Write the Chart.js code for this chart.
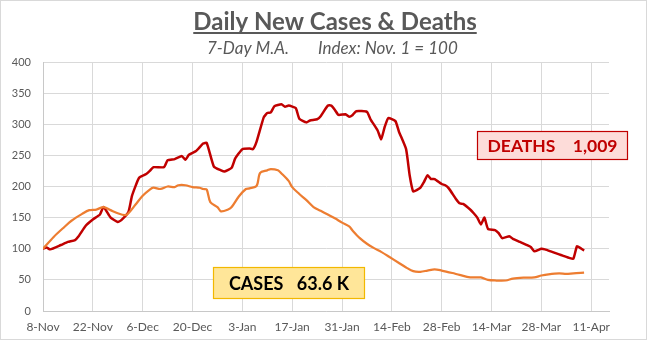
<!DOCTYPE html>
<html>
<head>
<meta charset="utf-8">
<script src="https://cdn.jsdelivr.net/npm/chart.js@4/dist/chart.umd.min.js"></script>
<style>
  html, body { margin: 0; padding: 0; background: #ffffff; }
  #wrap { width: 647px; height: 340px; position: relative; }
</style>
</head>
<body>
<div id="wrap"><canvas id="chart" width="647" height="340"></canvas></div>
<script>
// Days counted from 8-Nov; values are 7-day moving averages indexed to Nov. 1 = 100
const deathDays = [0, 1, 2, 5, 7, 9, 10, 12, 14, 16, 17, 19, 21, 22, 24, 25, 27, 29, 30, 31,
  34, 35, 37, 39, 40, 41, 43, 45, 46, 48, 50, 51, 53, 54, 56, 58, 59, 60, 62, 63,
  64, 65, 67, 68, 69, 71, 72, 74, 75, 77, 78, 80, 81, 82, 83, 85, 86, 87, 88, 91,
  92, 94, 95, 96, 97, 99, 100, 102, 103, 104, 106, 107, 108, 109, 110, 112, 113, 114, 116, 117,
  118, 120, 121, 122, 123, 124, 125, 127, 128, 129, 131, 132, 134, 136, 137, 138, 140, 141, 143, 145,
  146, 148, 149, 150, 151, 152];
const deathIndex = [100, 102, 99, 106, 111, 114, 120, 137, 147, 155, 167, 150, 143, 146, 159, 185, 214, 220, 225, 231,
  231, 242, 244, 249, 243, 251, 257, 269, 270, 232, 226, 224, 230, 245, 260, 261, 260, 272, 311, 318,
  319, 329, 332, 328, 330, 326, 309, 303, 306, 308, 313, 330, 330, 323, 315, 316, 312, 315, 321, 320,
  308, 290, 276, 296, 310, 305, 288, 260, 218, 192, 198, 207, 218, 212, 212, 204, 202, 197, 180, 173,
  172, 163, 157, 150, 139, 150, 132, 130, 125, 117, 120, 116, 111, 106, 103, 96, 100, 99, 95, 91,
  89, 85, 84, 104, 101, 97];

const caseDays = [0, 3, 6, 8, 11, 13, 15, 17, 19, 21, 23, 24, 26, 28, 30, 31, 33, 35, 37, 38,
  40, 42, 44, 45, 46, 47, 49, 50, 52, 53, 55, 57, 58, 60, 61, 63, 64, 66, 67, 69,
  70, 72, 74, 76, 78, 80, 82, 84, 86, 87, 89, 91, 93, 95, 97, 100, 102, 104, 106, 108,
  110, 112, 115, 117, 120, 123, 125, 127, 130, 132, 135, 138, 140, 142, 145, 147, 149, 152];
const caseIndex = [100, 119, 135, 145, 156, 162, 163, 167, 162, 157, 154, 157, 171, 185, 195, 198, 196, 200, 199, 202,
  202, 199, 198, 196, 195, 175, 167, 160, 163, 167, 184, 196, 197, 201, 222, 226, 228, 226, 221, 209,
  199, 188, 178, 167, 161, 155, 149, 142, 136, 129, 117, 108, 101, 95, 88, 77, 70, 64, 63, 65,
  67, 65, 61, 58, 54, 54, 50, 49, 49, 52, 53.5, 54, 57, 59, 60.5, 59.5, 60.5, 61.5];

const tickDays = [0, 14, 28, 42, 56, 70, 84, 98, 112, 126, 140, 154];
const tickLabels = ['8-Nov', '22-Nov', '6-Dec', '20-Dec', '3-Jan', '17-Jan', '31-Jan',
  '14-Feb', '28-Feb', '14-Mar', '28-Mar', '11-Apr'];

const latestDeaths = '1,009';
const latestCases = '63.6 K';

const FONT = 'Lato, "Open Sans", sans-serif';
const GREY_TEXT = '#595959';

const toPoints = (xs, ys) => xs.map((x, i) => ({ x: x, y: ys[i] }));

// Frame, headings and the two call-out boxes
const decorations = {
  id: 'decorations',
  beforeDraw(chart) {
    const ctx = chart.ctx;
    ctx.save();
    ctx.fillStyle = '#ffffff';
    ctx.fillRect(0, 0, chart.width, chart.height);
    ctx.strokeStyle = '#D9D9D9';
    ctx.lineWidth = 1;
    ctx.strokeRect(0.5, 0.5, chart.width - 1, chart.height - 1);
    ctx.restore();
  },
  afterDatasetsDraw(chart) {
    const ctx = chart.ctx;
    ctx.save();
    // Heading
    ctx.fillStyle = GREY_TEXT;
    ctx.font = 'bold 24px ' + FONT;
    ctx.textAlign = 'center';
    ctx.textBaseline = 'alphabetic';
    const title = 'Daily New Cases & Deaths';
    const cx = 335;
    ctx.fillText(title, cx, 29.5);
    const w = ctx.measureText(title).width;
    ctx.fillRect(cx - w / 2, 32, w, 2);

    // Sub-heading
    ctx.font = 'italic 17px ' + FONT;
    ctx.textAlign = 'left';
    ctx.fillText('7-Day M.A.', 207, 54);
    ctx.fillText('Index: Nov. 1 = 100', 318, 54);

    // Call-out boxes
    const box = (x, y, bw, bh, fill, stroke, color, text, size) => {
      ctx.fillStyle = fill;
      ctx.fillRect(x, y, bw, bh);
      ctx.strokeStyle = stroke;
      ctx.lineWidth = 1.2;
      ctx.strokeRect(x + 0.5, y + 0.5, bw - 1, bh - 1);
      ctx.fillStyle = color;
      ctx.font = 'bold ' + size + 'px ' + FONT;
      ctx.textAlign = 'center';
      ctx.textBaseline = 'middle';
      ctx.fillText(text, x + bw / 2, y + bh / 2 + 1);
    };
    box(477, 131, 151, 29, '#FDDCD9', '#C00000', '#C00000', 'DEATHS\u2003 ' + latestDeaths, 17.5);
    box(213, 267, 152, 32, '#FFE699', '#F2B800', '#000000', 'CASES\u2002 ' + latestCases, 18);
    ctx.restore();
  }
};

new Chart(document.getElementById('chart'), {
  type: 'line',
  data: {
    datasets: [
      {
        label: 'Cases',
        data: toPoints(caseDays, caseIndex),
        borderColor: '#ED7D31',
        borderWidth: 2.25,
        pointRadius: 0,
        tension: 0.3,
        fill: false
      },
      {
        label: 'Deaths',
        data: toPoints(deathDays, deathIndex),
        borderColor: '#C00000',
        borderWidth: 2.5,
        pointRadius: 0,
        tension: 0.15,
        fill: false
      }
    ]
  },
  options: {
    responsive: false,
    animation: false,
    devicePixelRatio: 1,
    layout: { padding: { top: 62, right: 38, bottom: 0, left: 0 } },
    plugins: {
      legend: { display: false },
      tooltip: { enabled: false },
      title: { display: false }
    },
    scales: {
      x: {
        type: 'linear',
        min: 0,
        max: 159,
        afterBuildTicks: (scale) => { scale.ticks = tickDays.map(v => ({ value: v })); },
        afterFit: (scale) => { scale.height = 29; },
        ticks: {
          callback: (value, index) => tickLabels[index],
          color: GREY_TEXT,
          font: { family: FONT, size: 12 },
          padding: 9,
          maxRotation: 0,
          autoSkip: false
        },
        grid: { color: '#D9D9D9', lineWidth: 1, drawTicks: false },
        border: { color: '#C8C8C8', width: 1 }
      },
      y: {
        min: 0,
        max: 400,
        afterFit: (scale) => { scale.width = 43; },
        ticks: {
          stepSize: 50,
          color: GREY_TEXT,
          font: { family: FONT, size: 11 },
          padding: 12
        },
        grid: { color: '#D9D9D9', lineWidth: 1, drawTicks: false },
        border: { color: '#C8C8C8', width: 1 }
      }
    }
  },
  plugins: [decorations]
});
</script>
</body>
</html>
